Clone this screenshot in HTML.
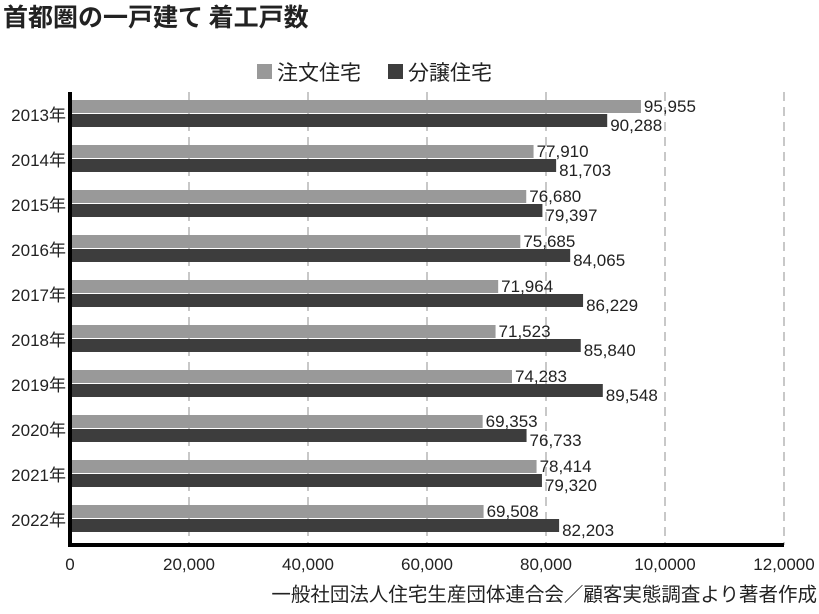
<!DOCTYPE html>
<html><head><meta charset="utf-8"><style>
body{margin:0;background:#fff;}
svg text{font-family:"Liberation Sans","Noto Sans CJK JP",sans-serif;}
</style></head><body>
<svg width="819" height="609" xmlns="http://www.w3.org/2000/svg" id="chart">
<text x="3" y="26" font-size="25" font-weight="bold" fill="#222" style="font-family:'Noto Sans CJK JP',sans-serif">首都圏の一戸建て 着工戸数</text>
<g>
<rect x="257" y="64" width="15" height="15" fill="#999"/>
<text x="277" y="80" font-size="21" fill="#222" style="font-family:'Noto Sans CJK JP',sans-serif">注文住宅</text>
<rect x="388" y="64" width="15" height="15" fill="#3d3d3d"/>
<text x="408" y="80" font-size="21" fill="#222" style="font-family:'Noto Sans CJK JP',sans-serif">分譲住宅</text>
</g>
<g id="grid"></g><g id="bars"></g><g id="labels"></g>
<text x="817" y="601" font-size="19.5" text-anchor="end" fill="#222" style="font-family:'Noto Sans CJK JP',sans-serif">一般社団法人住宅生産団体連合会／顧客実態調査より著者作成</text>
</svg>
<script>
const years=["2013年","2014年","2015年","2016年","2017年","2018年","2019年","2020年","2021年","2022年"];
const custom=[95955,77910,76680,75685,71964,71523,74283,69353,78414,69508];
const sale=[90288,81703,79397,84065,86229,85840,89548,76733,79320,82203];
const ticks=[0,20000,40000,60000,80000,100000,120000];
const tickLabels=["0","20,000","40,000","60,000","80,000","10,0000","12,0000"];
const NS="http://www.w3.org/2000/svg";
const x0=70,pxPer=(784-70)/120000;
const xs=v=>x0+v*pxPer;
const rowY=i=>100+i*45;
function mk(t,a,p){const e=document.createElementNS(NS,t);for(const k in a)e.setAttribute(k,a[k]);p.appendChild(e);return e;}
const grid=document.getElementById('grid'),bars=document.getElementById('bars'),labels=document.getElementById('labels');
ticks.forEach((t,i)=>{
 if(i>0){const l=mk('line',{x1:xs(t),x2:xs(t),y1:92,y2:545,stroke:'#aaa','stroke-width':1.3,'stroke-dasharray':'9,6'},grid);
 
 }
 const tx=mk('text',{x:i==0?70:xs(t),y:570,'font-size':17,'text-anchor':'middle',fill:'#222'},labels);
 tx.textContent=tickLabels[i];
 
 
});
years.forEach((y,i)=>{
 const yy=rowY(i);
 const b1=mk('rect',{x:x0,y:yy,width:xs(custom[i])-x0,height:13,fill:'#999'},bars);
 
 
 const b2=mk('rect',{x:x0,y:yy+14,width:xs(sale[i])-x0,height:13,fill:'#3d3d3d'},bars);
 
 
 const t1=mk('text',{x:xs(custom[i])+3,y:yy+12,'font-size':17,fill:'#222'},labels);
 t1.textContent=custom[i].toLocaleString('en-US');
 
 
 const t2=mk('text',{x:xs(sale[i])+3,y:yy+31,'font-size':17,fill:'#222'},labels);
 t2.textContent=sale[i].toLocaleString('en-US');
 
 
 const yl=mk('text',{x:66,y:yy+21,'font-size':17,'text-anchor':'end',fill:'#222'},labels);
 yl.textContent=y;
 
 
});
const ax=mk('path',{d:'M70 92 V545 H784',fill:'none',stroke:'#000','stroke-width':4},labels);


</script>
</body></html>
